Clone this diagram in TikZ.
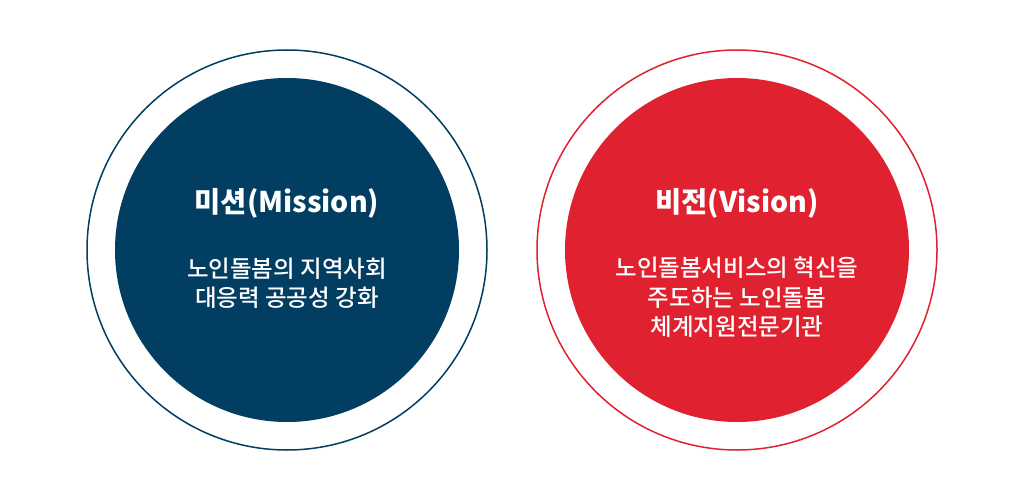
\documentclass[tikz,border=0pt]{standalone}
\usepackage{fontspec}
\newfontfamily\kofont{Noto Sans CJK KR}
\newfontfamily\kofontmed{Noto Sans CJK KR Medium}
\usetikzlibrary{positioning}
\definecolor{missionblue}{HTML}{023D62}
\definecolor{visionred}{HTML}{E0212F}
\tikzset{
  ring/.style={draw=#1, line width=1.5pt, fill=white},
  core/.style={fill=#1, draw=none},
  title/.style={text=white, font=\kofont\bfseries\fontsize{28.5}{34}\selectfont},
  body/.style={text=white, align=center, inner sep=0pt, font=\kofontmed\fontsize{23.5}{29.5}\selectfont}
}
\begin{document}
\begin{tikzpicture}[x=1pt,y=-1pt]
    \useasboundingbox (0,0) rectangle (1024,500);
    % mission
    \draw[ring=missionblue] (287,250) circle[radius=200];
    \fill[core=missionblue] (287,250) circle[radius=172];
    \node[title] (missiontitle) at (287,203) {미션(Mission)};
    \node[body] (missiontext) at (287,283) {노인돌봄의 지역사회\\대응력 공공성 강화};
    % vision
    \draw[ring=visionred] (737,250) circle[radius=200];
    \fill[core=visionred] (737,250) circle[radius=172];
    \node[title] (visiontitle) at (737,203) {비전(Vision)};
    \node[body] (visiontext) at (737,297.5) {노인돌봄서비스의 혁신을\\주도하는 노인돌봄\\ 체계지원전문기관};
\end{tikzpicture}
\end{document}
